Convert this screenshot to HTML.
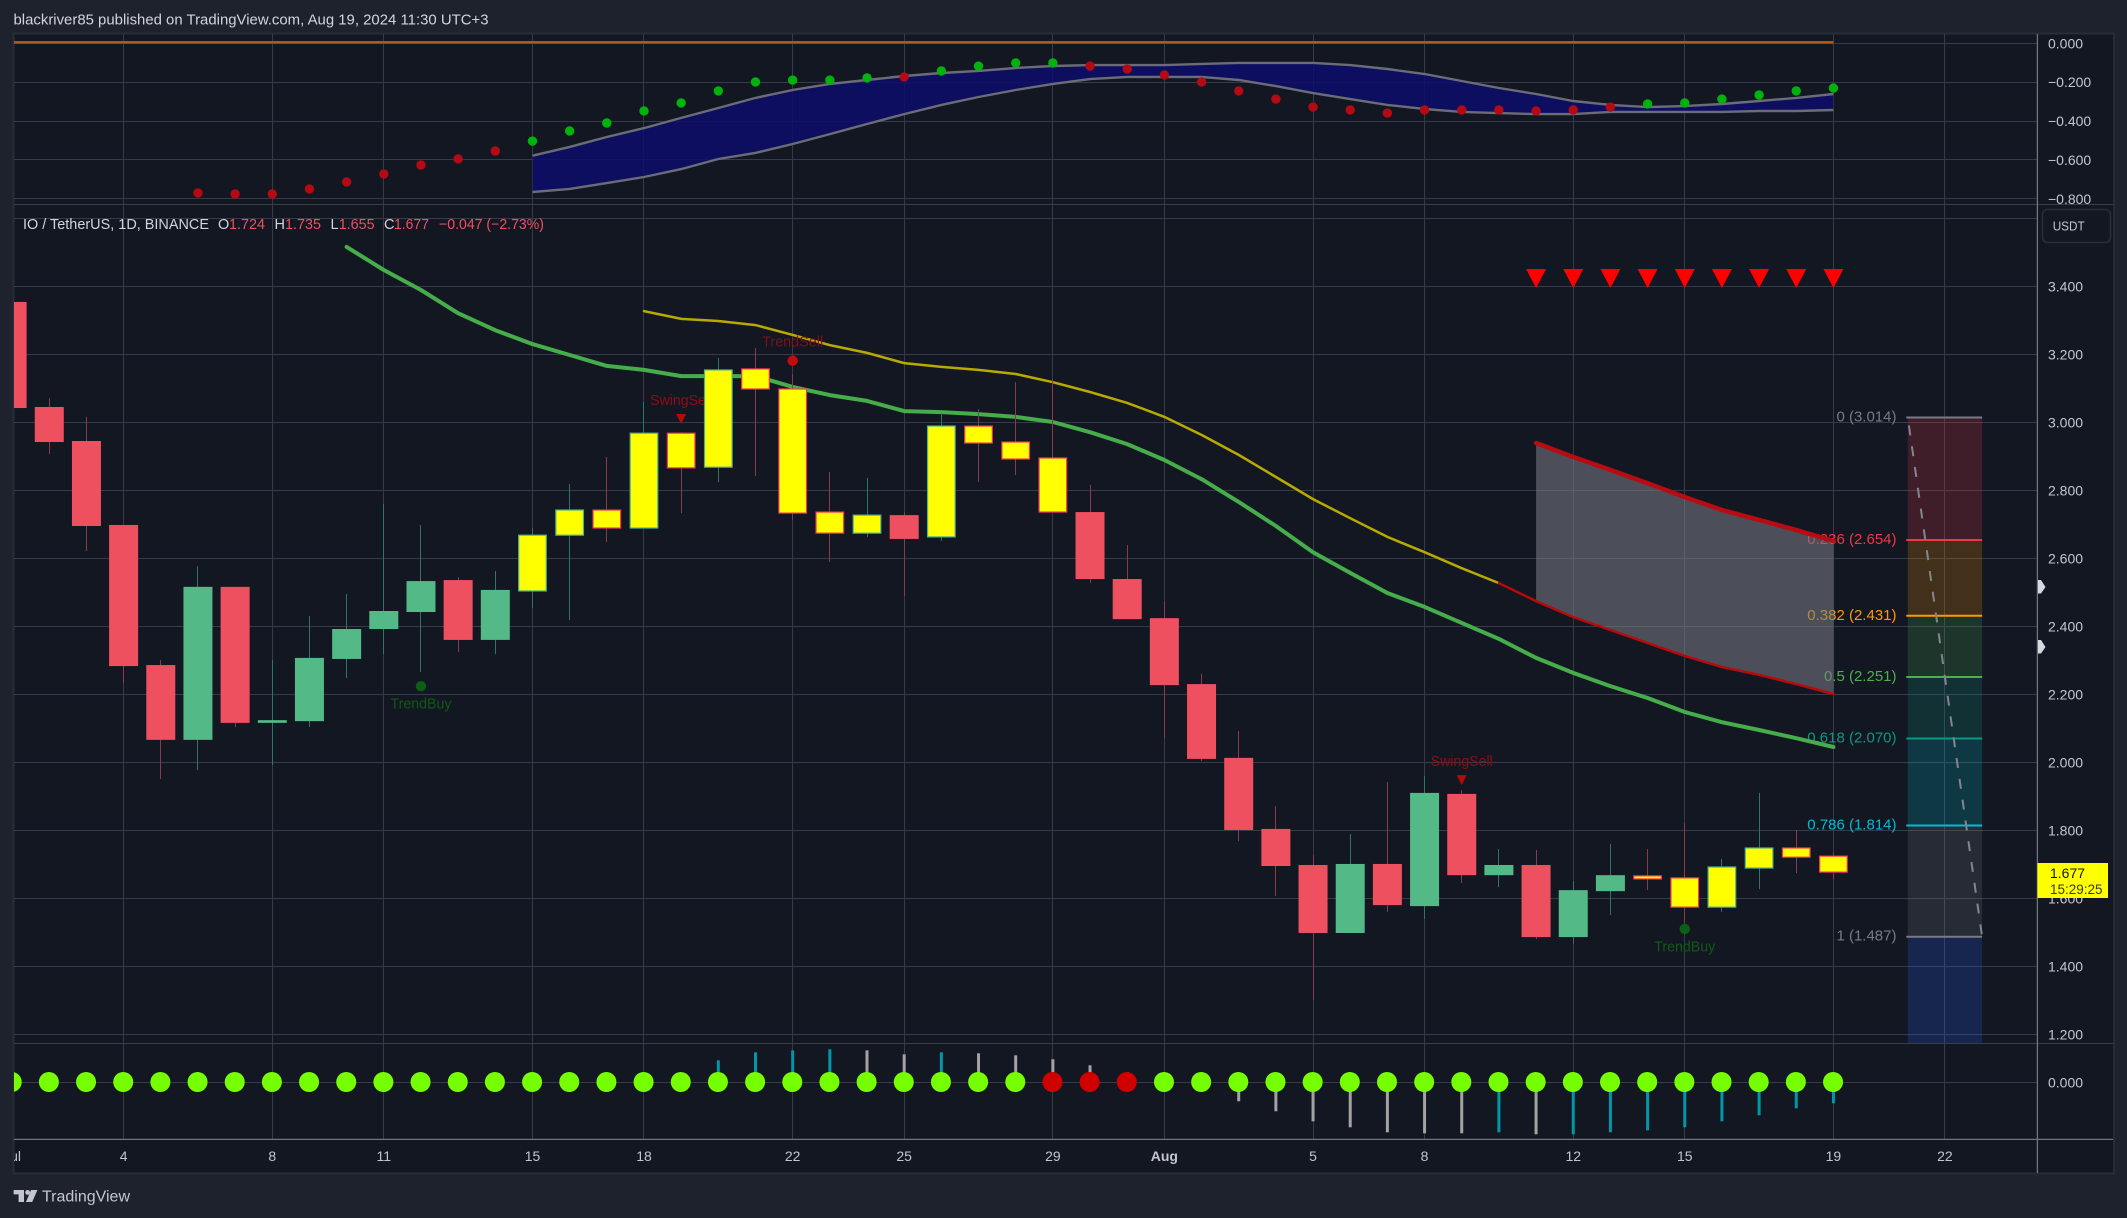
<!DOCTYPE html>
<html lang="en">
<head>
<meta charset="utf-8">
<title>IO / TetherUS chart</title>
<style>
html,body{margin:0;padding:0;background:#1e222d;width:2127px;height:1218px;overflow:hidden}
svg{display:block}
text{font-family:"Liberation Sans",sans-serif;dominant-baseline:central}
</style>
</head>
<body>
<svg id="chart" xmlns="http://www.w3.org/2000/svg" width="2127" height="1218" viewBox="0 0 2127 1218">
  <defs>
    <clipPath id="pane-clip"><rect x="14" y="35" width="2023.5" height="1105"/></clipPath>
    <clipPath id="main-clip"><rect x="14" y="205" width="2023.5" height="838"/></clipPath>
    <clipPath id="time-clip"><rect x="14" y="1141" width="2023.5" height="32"/></clipPath>
  </defs>
  <rect x="0" y="0" width="2127" height="1218" fill="#1e222d"/>
  <rect x="13.5" y="33.5" width="2100.5" height="1140" fill="#131722" stroke="#282c37" stroke-width="2"/>
  <text x="13.5" y="20" font-size="15" fill="#d1d4dc" textLength="475" lengthAdjust="spacingAndGlyphs">blackriver85 published on TradingView.com, Aug 19, 2024 11:30 UTC+3</text>
  <g id="layer-grid"></g>
  <g id="layer-osc" clip-path="url(#pane-clip)"></g>
  <g id="layer-main" clip-path="url(#main-clip)"></g>
  <g id="layer-hist" clip-path="url(#pane-clip)"></g>
  <g id="layer-axes"></g>
  <g font-size="14.5">
    <text x="23" y="225" fill="#d1d4dc" textLength="186" lengthAdjust="spacingAndGlyphs">IO / TetherUS, 1D, BINANCE</text>
    <text x="218" y="225" fill="#d1d4dc">O</text>
    <text x="229" y="225" fill="#ef5060" textLength="36" lengthAdjust="spacingAndGlyphs">1.724</text>
    <text x="274.5" y="225" fill="#d1d4dc">H</text>
    <text x="285" y="225" fill="#ef5060" textLength="36" lengthAdjust="spacingAndGlyphs">1.735</text>
    <text x="330.5" y="225" fill="#d1d4dc">L</text>
    <text x="338.7" y="225" fill="#ef5060" textLength="36" lengthAdjust="spacingAndGlyphs">1.655</text>
    <text x="384" y="225" fill="#d1d4dc">C</text>
    <text x="394" y="225" fill="#ef5060" textLength="35" lengthAdjust="spacingAndGlyphs">1.677</text>
    <text x="439" y="225" fill="#ef5060" textLength="105" lengthAdjust="spacingAndGlyphs">−0.047 (−2.73%)</text>
  </g>
  <g fill="#c3c6ce">
    <path d="M13.6 1190H24V1202H18.6V1194.4H13.6Z M31 1190H37.4L32.2 1202H26Z"/>
    <circle cx="27.6" cy="1192.4" r="2.4"/>
    <text x="42" y="1197" font-size="15.5" textLength="88" lengthAdjust="spacingAndGlyphs">TradingView</text>
  </g>
</svg>
<script>
/* ---------- data ---------- */
const opens = [3.354,3.045,2.945,2.698,2.286,2.066,2.516,2.116,2.121,2.304,
2.392,2.442,2.536,2.360,2.504,2.668,2.742,2.689,2.968,2.868,
3.157,3.098,2.736,2.674,2.727,2.663,2.989,2.942,2.895,2.736,
2.539,2.424,2.230,2.013,1.804,1.698,1.498,1.701,1.577,1.907,
1.668,1.698,1.486,1.621,1.666,1.660,1.574,1.689,1.748,1.724];
const closes = [3.042,2.942,2.695,2.283,2.066,2.516,2.116,2.124,2.307,2.392,
2.445,2.533,2.360,2.507,2.668,2.742,2.689,2.968,2.866,3.154,
3.098,2.733,2.674,2.727,2.657,2.989,2.939,2.892,2.736,2.539,
2.421,2.227,2.010,1.801,1.695,1.498,1.701,1.580,1.910,1.668,
1.698,1.486,1.624,1.668,1.657,1.574,1.692,1.748,1.721,1.677];
const highs = [3.354,3.071,3.016,2.698,2.301,2.577,2.516,2.301,2.430,2.495,
2.760,2.698,2.545,2.563,2.689,2.818,2.898,3.060,2.971,3.189,
3.218,3.142,2.854,2.836,2.736,3.027,3.039,3.118,3.127,2.816,
2.639,2.474,2.260,2.092,1.871,1.727,1.789,1.942,1.960,1.918,
1.745,1.742,1.651,1.760,1.745,1.821,1.716,1.910,1.801,1.735];
const lows = [3.042,2.907,2.621,2.233,1.951,1.977,2.104,1.992,2.104,2.248,
2.318,2.266,2.324,2.318,2.454,2.418,2.648,2.689,2.733,2.824,
2.842,2.713,2.589,2.663,2.489,2.651,2.824,2.845,2.736,2.527,
2.421,2.071,2.004,1.768,1.607,1.301,1.498,1.560,1.539,1.645,
1.633,1.480,1.466,1.551,1.624,1.527,1.560,1.627,1.674,1.655];
const highlightedBars = [14,15,16,17,18,19,20,21,22,23,25,26,27,28,44,45,46,47,48,49];

const greenMaStart = 9;
const greenMa = [3.516,3.448,3.389,3.321,3.271,3.230,3.198,3.166,3.154,3.136,3.136,3.136,3.104,3.080,3.063,3.033,3.030,3.024,3.016,3.001,2.971,2.936,2.889,2.833,2.766,2.695,2.618,2.557,2.498,2.457,2.410,2.363,2.307,2.263,2.224,2.189,2.148,2.118,2.095,2.071,2.045];
const yellowMaStart = 17;
const yellowMa = [3.327,3.304,3.298,3.286,3.257,3.227,3.204,3.174,3.163,3.154,3.142,3.118,3.089,3.057,3.016,2.963,2.904,2.839,2.774,2.718,2.663,2.618,2.571,2.527];
const lowerRedStart = 40;
const lowerRed = [2.527,2.474,2.427,2.389,2.351,2.313,2.280,2.257,2.230,2.201];
const upperRedStart = 41;
const upperRed = [2.939,2.898,2.860,2.821,2.780,2.742,2.713,2.683,2.651];

const sellTriangleBars = [41,42,43,44,45,46,47,48,49];
const sellTriangleLevel = 3.395;
const swingSellBars = [18,39];
const swingSellLevels = [2.995,1.933];
const trendSellBars = [21];
const trendSellLevels = [3.181];
const trendBuyBars = [11,45];
const trendBuyLevels = [2.224,1.510];

const fibLabels = ['0 (3.014)','0.236 (2.654)','0.382 (2.431)','0.5 (2.251)','0.618 (2.070)','0.786 (1.814)','1 (1.487)'];
const fibPrices = [3.014,2.654,2.431,2.251,2.070,1.814,1.487];
const fibColors = ['#787b86','#f23645','#ff9800','#4caf50','#089981','#00bcd4','#787b86'];
const fibBandColors = ['#f23645','#ff9800','#4caf50','#089981','#00bcd4','#787b86','#2962ff'];
const fibStartBar = 51;
const fibEndBar = 53;
const fibExtendPrice = 1.17;

const oscStart = 14;
const oscUpper = [-.578,-.533,-.482,-.436,-.384,-.333,-.281,-.240,-.209,-.189,-.168,-.153,-.142,-.127,-.117,-.112,-.112,-.112,-.106,-.101,-.101,-.101,-.112,-.132,-.158,-.194,-.230,-.261,-.297,-.317,-.328,-.323,-.312,-.297,-.281,-.261];
const oscLower = [-.765,-.749,-.719,-.688,-.647,-.595,-.564,-.518,-.467,-.415,-.364,-.317,-.276,-.240,-.209,-.184,-.173,-.173,-.173,-.189,-.220,-.256,-.287,-.317,-.338,-.353,-.359,-.364,-.364,-.353,-.353,-.353,-.353,-.348,-.348,-.343];
const oscDotStart = 5;
const oscDots = [-.770,-.775,-.775,-.749,-.713,-.672,-.626,-.595,-.554,-.503,-.451,-.410,-.348,-.307,-.245,-.199,-.189,-.189,-.178,-.173,-.142,-.117,-.101,-.101,-.117,-.132,-.163,-.199,-.245,-.287,-.328,-.343,-.359,-.343,-.343,-.343,-.348,-.343,-.328,-.312,-.307,-.287,-.266,-.245,-.230];
const oscDotSides = 'rrrrrrrrrggggggggggrggggrrrrrrrrrrrrrrrgggggg';

const histStart = 19;
const histValues = [.022,.030,.032,.033,.032,.028,.030,.029,.027,.023,.017,.010,0,0,-.019,-.029,-.039,-.045,-.050,-.051,-.051,-.050,-.052,-.052,-.050,-.048,-.045,-.039,-.033,-.026,-.021];
const histKinds = 'ttttggtggggggggggggggtgtttttttt';
const squeezeBarCount = 50;
const squeezeOnBars = [28,29,30];

const priceGridTicks = [3.6,3.4,3.2,3.0,2.8,2.6,2.4,2.2,2.0,1.8,1.6,1.4,1.2];
const priceTickLabels = [null,'3.400','3.200','3.000','2.800','2.600','2.400','2.200','2.000','1.800','1.600','1.400','1.200'];
const oscTicks = [0,-.2,-.4,-.6,-.8];
const oscTickLabels = ['0.000','−0.200','−0.400','−0.600','−0.800'];
const timeTickBars = [0,3,7,10,14,17,21,24,28,31,35,38,42,45,49,52];
const timeTickLabels = ['Jul','4','8','11','15','18','22','25','29','Aug','5','8','12','15','19','22'];

/* ---------- axis functions ---------- */
const xAt = i => 12.1 + 37.17 * i;
const yPrice = p => 286.3 + (3.4 - p) * 340;
const yOsc = v => 43.3 - v * 194.4;
const yHist = v => 1082.3 - v * 1000;
const crisp = v => Math.round(v - 0.5) + 0.5;

const NS = 'http://www.w3.org/2000/svg';
const gridLayer = document.getElementById('layer-grid');
const oscLayer = document.getElementById('layer-osc');
const mainLayer = document.getElementById('layer-main');
const histLayer = document.getElementById('layer-hist');
const axesLayer = document.getElementById('layer-axes');

function make(parent, tag, attrs, content) {
  const node = document.createElementNS(NS, tag);
  for (const key in attrs) node.setAttribute(key, attrs[key]);
  if (content !== undefined) node.textContent = content;
  parent.appendChild(node);
  return node;
}
const pts = (start, arr, yFn) => arr.map((v, k) => xAt(start + k).toFixed(1) + ',' + yFn(v).toFixed(1));
let el;

/* ---------- grid ---------- */
const GRID = '#363a4a';
timeTickBars.forEach((bar) => {
  if (xAt(bar) < 14) return;
  el = make(gridLayer, 'line', {x1: crisp(xAt(bar)), x2: crisp(xAt(bar)), y1: 34, y2: 1139, stroke: GRID, 'stroke-width': 1});
  
  
});
priceGridTicks.forEach((p) => {
  el = make(gridLayer, 'line', {x1: 14, x2: 2037, y1: crisp(yPrice(p)), y2: crisp(yPrice(p)), stroke: GRID, 'stroke-width': 1});
  
  
});
oscTicks.forEach((v) => {
  el = make(gridLayer, 'line', {x1: 14, x2: 2037, y1: crisp(yOsc(v)), y2: crisp(yOsc(v)), stroke: GRID, 'stroke-width': 1});
  
  
});
el = make(gridLayer, 'line', {x1: 14, x2: 2037, y1: crisp(yHist(0)), y2: crisp(yHist(0)), stroke: GRID, 'stroke-width': 1});



/* ---------- oscillator pane ---------- */
el = make(oscLayer, 'line', {x1: 14, x2: xAt(49), y1: 42.3, y2: 42.3, stroke: '#a95a16', 'stroke-width': 2.6});


el = make(oscLayer, 'polygon', {points: pts(oscStart, oscUpper, yOsc).concat(pts(oscStart, oscLower, yOsc).reverse()).join(' '), fill: 'rgba(12,12,110,.82)'});


el = make(oscLayer, 'polyline', {points: pts(oscStart, oscUpper, yOsc).join(' '), fill: 'none', stroke: '#6b6c78', 'stroke-width': 2.4});


el = make(oscLayer, 'polyline', {points: pts(oscStart, oscLower, yOsc).join(' '), fill: 'none', stroke: '#6b6c78', 'stroke-width': 2.4});


oscDots.forEach((v, k) => {
  const isUp = oscDotSides[k] === 'g';
  el = make(oscLayer, 'circle', {cx: xAt(oscDotStart + k), cy: yOsc(v), r: 4.7, fill: isUp ? '#00b30c' : '#b30a14'});
  
  
});

/* ---------- fib retracement ---------- */
const fibX1 = xAt(fibStartBar);
const fibX2 = xAt(fibEndBar);
fibPrices.forEach((p, k) => {
  const next = k < fibPrices.length - 1 ? fibPrices[k + 1] : fibExtendPrice;
  el = make(mainLayer, 'rect', {x: fibX1, y: yPrice(p), width: fibX2 - fibX1, height: yPrice(next) - yPrice(p), fill: fibBandColors[k], 'fill-opacity': .2});
  
  
});
fibPrices.forEach((p, k) => {
  el = make(mainLayer, 'line', {x1: fibX1 - 1.5, x2: fibX2, y1: yPrice(p), y2: yPrice(p), stroke: fibColors[k], 'stroke-width': 2});
  
  
  el = make(mainLayer, 'text', {x: 1896.5, y: yPrice(p) - 0.5, fill: fibColors[k], 'font-size': 15, 'text-anchor': 'end'}, fibLabels[k]);
  
  
});
el = make(mainLayer, 'line', {x1: fibX1, y1: yPrice(fibPrices[0]), x2: fibX2, y2: yPrice(fibPrices[6]), stroke: '#83858f', 'stroke-width': 2, 'stroke-dasharray': '10 11', 'stroke-dashoffset': -8});



/* ---------- moving averages and band ---------- */
el = make(mainLayer, 'polygon', {points: pts(upperRedStart, upperRed, yPrice).concat(pts(lowerRedStart + 1, lowerRed.slice(1), yPrice).reverse()).join(' '), fill: '#787b86', 'fill-opacity': .57});


el = make(mainLayer, 'polyline', {points: pts(greenMaStart, greenMa, yPrice).join(' '), fill: 'none', stroke: '#45ad4a', 'stroke-width': 4, 'stroke-linecap': 'round', 'stroke-linejoin': 'round'});


el = make(mainLayer, 'polyline', {points: pts(yellowMaStart, yellowMa, yPrice).join(' '), fill: 'none', stroke: '#b8aa00', 'stroke-width': 2.5, 'stroke-linecap': 'round'});


el = make(mainLayer, 'polyline', {points: pts(lowerRedStart, lowerRed, yPrice).join(' '), fill: 'none', stroke: '#b80a0a', 'stroke-width': 2.5, 'stroke-linecap': 'round'});


el = make(mainLayer, 'polyline', {points: pts(upperRedStart, upperRed, yPrice).join(' '), fill: 'none', stroke: '#b80c12', 'stroke-width': 4.5, 'stroke-linecap': 'round'});



/* ---------- signal labels ---------- */
swingSellBars.forEach((bar, k) => {
  const tip = yPrice(swingSellLevels[k]);
  const x = xAt(bar);
  el = make(mainLayer, 'polygon', {points: (x - 5) + ',' + (tip - 10) + ' ' + (x + 5) + ',' + (tip - 10) + ' ' + x + ',' + tip, fill: '#b30a0a'});
  
  
  el = make(mainLayer, 'text', {x: x, y: tip - 23, fill: '#8e0d16', 'font-size': 14.5, 'text-anchor': 'middle', textLength: 62, lengthAdjust: 'spacingAndGlyphs'}, 'SwingSell');
  
  
});
trendSellBars.forEach((bar, k) => {
  const cy = yPrice(trendSellLevels[k]);
  el = make(mainLayer, 'circle', {cx: xAt(bar), cy: cy, r: 5.2, fill: '#c40a0a'});
  
  
  el = make(mainLayer, 'text', {x: xAt(bar), y: cy - 18.5, fill: '#7d1018', 'font-size': 14.5, 'text-anchor': 'middle', textLength: 61, lengthAdjust: 'spacingAndGlyphs'}, 'TrendSell');
  
  
});
trendBuyBars.forEach((bar, k) => {
  const cy = yPrice(trendBuyLevels[k]);
  el = make(mainLayer, 'circle', {cx: xAt(bar), cy: cy, r: 5.2, fill: '#0a5f14'});
  
  
  el = make(mainLayer, 'text', {x: xAt(bar), y: cy + 18.5, fill: '#0f5a14', 'font-size': 14.5, 'text-anchor': 'middle', textLength: 61, lengthAdjust: 'spacingAndGlyphs'}, 'TrendBuy');
  
  
});
sellTriangleBars.forEach((bar) => {
  const tip = yPrice(sellTriangleLevel);
  const x = xAt(bar);
  el = make(mainLayer, 'polygon', {points: (x - 10) + ',' + (tip - 19) + ' ' + (x + 10) + ',' + (tip - 19) + ' ' + x + ',' + tip, fill: '#ff0000'});
  
  
});

/* ---------- candles ---------- */
opens.forEach((open, i) => {
  const close = closes[i];
  const up = close >= open;
  const x = xAt(i);
  const yTop = yPrice(Math.max(open, close));
  const yBot = yPrice(Math.min(open, close));
  const special = highlightedBars.includes(i);
  el = make(mainLayer, 'line', {x1: crisp(x), x2: crisp(x), y1: yPrice(highs[i]), y2: yPrice(lows[i]), stroke: up ? '#2f7565' : '#8a3a4a', 'stroke-width': 1});
  
  
  if (special) {
    el = make(mainLayer, 'rect', {x: x - 13.8, y: yTop, width: 27.6, height: Math.max(yBot - yTop, 1.5), fill: '#ffff00', stroke: up ? '#4db28f' : '#f2365d', 'stroke-width': 1.2});
  } else {
    el = make(mainLayer, 'rect', {x: x - 14.5, y: yTop, width: 29, height: Math.max(yBot - yTop, 1.5), fill: up ? '#53b987' : '#ef5060'});
  }
  
  
});

/* ---------- squeeze pane ---------- */
histValues.forEach((v, k) => {
  if (v === 0) return;
  const x = xAt(histStart + k);
  el = make(histLayer, 'line', {x1: x, x2: x, y1: yHist(0), y2: yHist(v), stroke: histKinds[k] === 't' ? '#0097a7' : '#a3a3a3', 'stroke-width': 3});
  
  
});
for (let i = 0; i < squeezeBarCount; i++) {
  const on = squeezeOnBars.includes(i);
  el = make(histLayer, 'circle', {cx: xAt(i) - 0.4, cy: yHist(0) - 0.3, r: 10, fill: on ? '#d10000' : '#76ff00'});
  
  
}

/* ---------- axes ---------- */
el = make(axesLayer, 'line', {x1: 14, x2: 2113, y1: 204.5, y2: 204.5, stroke: '#3a3e4c', 'stroke-width': 1});


el = make(axesLayer, 'line', {x1: 14, x2: 2113, y1: 1043.5, y2: 1043.5, stroke: '#3a3e4c', 'stroke-width': 1});


el = make(axesLayer, 'line', {x1: 14, x2: 2113, y1: 1139.4, y2: 1139.4, stroke: '#72747c', 'stroke-width': 1.3});


el = make(axesLayer, 'line', {x1: 2037.4, x2: 2037.4, y1: 34, y2: 1173, stroke: '#72747c', 'stroke-width': 1.3});



priceGridTicks.forEach((p, k) => {
  if (!priceTickLabels[k]) return;
  el = make(axesLayer, 'text', {x: 2048, y: yPrice(p), fill: '#c3c6ce', 'font-size': 14}, priceTickLabels[k]);
  
  
});
oscTicks.forEach((v, k) => {
  el = make(axesLayer, 'text', {x: 2048, y: yOsc(v), fill: '#c3c6ce', 'font-size': 14}, oscTickLabels[k]);
  
  
});
el = make(axesLayer, 'text', {x: 2048, y: yHist(0), fill: '#c3c6ce', 'font-size': 14}, '0.000');


const timeGroup = make(axesLayer, 'g', {'clip-path': 'url(#time-clip)'});


timeTickBars.forEach((bar, k) => {
  const bold = timeTickLabels[k] === 'Aug';
  el = make(timeGroup, 'text', {x: xAt(bar), y: 1156, fill: '#c3c6ce', 'font-size': 14, 'font-weight': bold ? 700 : 400, 'text-anchor': 'middle'}, timeTickLabels[k]);
  
  
});

el = make(axesLayer, 'rect', {x: 2042.5, y: 209.5, width: 68, height: 33, rx: 5, fill: '#131722', stroke: '#2a2e39', 'stroke-width': 1.5});


el = make(axesLayer, 'text', {x: 2052.7, y: 226, fill: '#c3c6ce', 'font-size': 13, textLength: 32, lengthAdjust: 'spacingAndGlyphs'}, 'USDT');



el = make(axesLayer, 'polygon', {points: '2038,580 2041,580 2045.5,587 2041,593.5 2038,593.5', fill: '#d7d9e0'});


el = make(axesLayer, 'polygon', {points: '2038,640 2041,640 2045.5,647 2041,653.5 2038,653.5', fill: '#d7d9e0'});



el = make(axesLayer, 'rect', {x: 2037.5, y: 863, width: 70.5, height: 35, fill: '#ffff00'});


el = make(axesLayer, 'text', {x: 2050, y: 873, fill: '#131722', 'font-size': 14}, closes[closes.length - 1].toFixed(3));


el = make(axesLayer, 'text', {x: 2050, y: 889, fill: '#3a3c20', 'font-size': 14, textLength: 52.5, lengthAdjust: 'spacingAndGlyphs'}, '15:29:25');


</script>
</body>
</html>
